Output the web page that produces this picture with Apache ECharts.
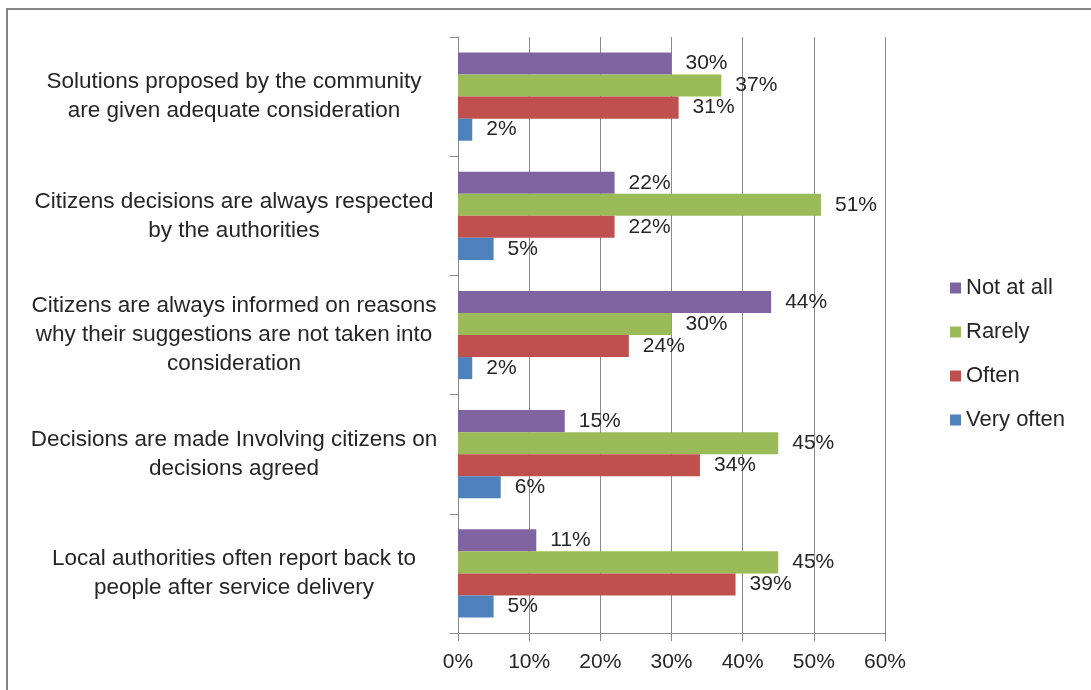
<!DOCTYPE html>
<html>
<head>
<meta charset="utf-8">
<script src="https://cdn.jsdelivr.net/npm/echarts@6/dist/echarts.min.js"></script>
<style>
  html, body { margin: 0; padding: 0; background: #fff; }
  #chart { width: 1091px; height: 690px; }
</style>
</head>
<body>
<div id="chart"></div>
<script>
// categories, top to bottom
const statements = [
  'Solutions proposed by the community\nare given adequate consideration',
  'Citizens decisions are always respected\nby the authorities',
  'Citizens are always informed on reasons\nwhy their suggestions are not taken into\nconsideration',
  'Decisions are made Involving citizens on\ndecisions agreed',
  'Local authorities often report back to\npeople after service delivery'
];

// percentages per answer
const notAtAll = [30, 22, 44, 15, 11];
const rarely = [37, 51, 30, 45, 45];
const often = [31, 22, 24, 34, 39];
const veryOften = [2, 5, 2, 6, 5];

const seriesNames = ['Not at all', 'Rarely', 'Often', 'Very often'];
const xTicks = [0, 10, 20, 30, 40, 50, 60];

const colors = ['#8064A2', '#9BBB59', '#C0504D', '#4F81BD'];
const textColor = '#262626';
const fontFamily = 'Liberation Sans, Arial, sans-serif';

const chart = echarts.init(document.getElementById('chart'));

function makeSeries(name, data, color) {
  return {
    name: name,
    type: 'bar',
    data: data,
    barGap: '0%',
    barCategoryGap: '26%',
    itemStyle: { color: color },
    label: {
      show: true,
      position: 'right',
      distance: 14,
      formatter: '{c}%',
      color: textColor,
      fontSize: 21,
      fontFamily: fontFamily
    }
  };
}

const option = {
  animation: false,
  backgroundColor: '#fff',
  graphic: [{
    type: 'rect',
    shape: { x: 7, y: 9, width: 1200, height: 800 },
    style: { fill: 'none', stroke: '#858585', lineWidth: 2 },
    silent: true
  }],
  legend: {
    orient: 'vertical',
    left: 945,
    top: 272,
    itemWidth: 11,
    itemHeight: 11,
    itemGap: 22,
    icon: 'rect',
    data: seriesNames,
    textStyle: { color: textColor, fontSize: 22, fontFamily: fontFamily, padding: [0, 0, 0, 0] }
  },
  grid: {
    left: 458,
    right: 206,
    top: 37,
    bottom: 57,
    containLabel: false
  },
  xAxis: {
    type: 'value',
    min: xTicks[0],
    max: xTicks[xTicks.length - 1],
    interval: 10,
    axisLine: { show: true, lineStyle: { color: '#8a8a8a', width: 1 } },
    axisTick: { show: true, length: 8, lineStyle: { color: '#8a8a8a' } },
    splitLine: { show: true, lineStyle: { color: '#8a8a8a', width: 1 } },
    axisLabel: {
      formatter: '{value}%',
      color: textColor,
      fontSize: 21,
      fontFamily: fontFamily,
      margin: 19
    }
  },
  yAxis: {
    type: 'category',
    inverse: true,
    data: statements,
    axisLine: { show: true, lineStyle: { color: '#8a8a8a', width: 1 } },
    axisTick: { show: true, length: 8, lineStyle: { color: '#8a8a8a' } },
    axisLabel: {
      color: textColor,
      fontSize: 22.5,
      fontFamily: fontFamily,
      lineHeight: 29,
      align: 'center',
      margin: 224
    }
  },
  series: [
    makeSeries(seriesNames[0], notAtAll, colors[0]),
    makeSeries(seriesNames[1], rarely, colors[1]),
    makeSeries(seriesNames[2], often, colors[2]),
    makeSeries(seriesNames[3], veryOften, colors[3])
  ]
};

chart.setOption(option);
</script>
</body>
</html>
